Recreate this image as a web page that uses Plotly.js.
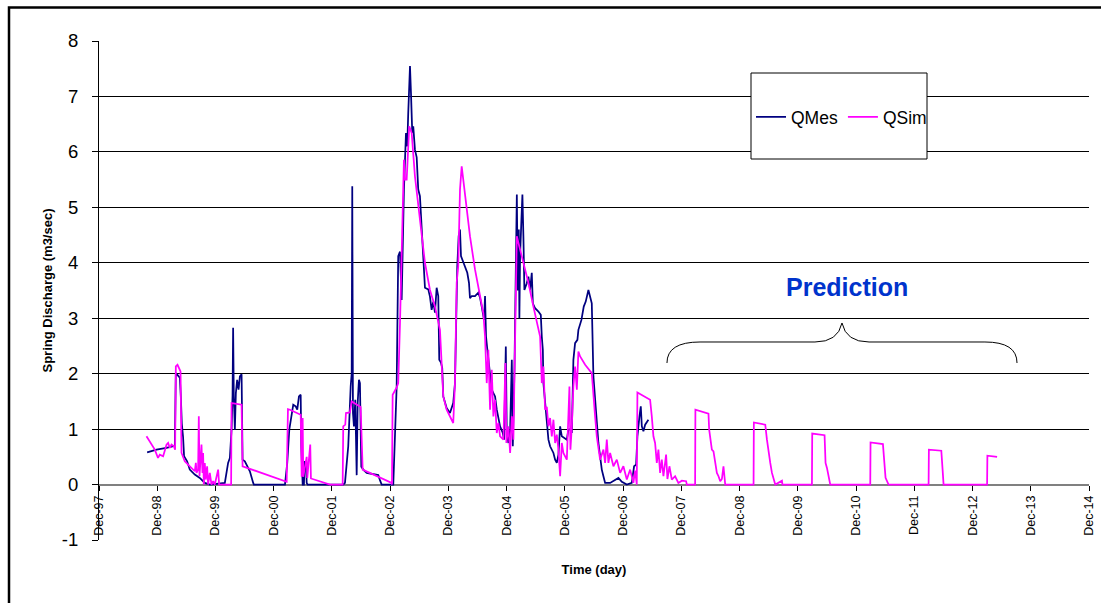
<!DOCTYPE html>
<html><head><meta charset="utf-8">
<script src="https://cdn.plot.ly/plotly-3.0.1.min.js"></script>
<style>html,body{margin:0;padding:0;background:#fff}#chart{width:1101px;height:603px}</style>
</head><body><div id="chart"></div>
<script>
// Time in decimal years, values in m3/sec
const qmesT = [1998.742,1998.903,1999.075,1999.161,1999.218,1999.235,1999.274,1999.304,1999.321,1999.338,1999.360,1999.377,1999.429,1999.475,1999.561,1999.647,1999.733,1999.819,
2000.077,2000.106,2000.133,2000.163,2000.192,2000.209,2000.219,2000.231,2000.249,2000.266,2000.288,2000.312,2000.335,2000.364,2000.381,2000.420,2000.450,2000.506,2000.563,2000.575,
2001.108,2001.125,2001.147,2001.182,2001.223,2001.250,2001.292,2001.319,2001.348,2001.378,2001.388,2001.400,2001.412,2001.434,2001.446,2001.469,2001.481,2001.495,
2002.109,2002.139,2002.195,2002.237,2002.254,2002.264,2002.276,2002.293,2002.316,2002.340,2002.357,2002.379,2002.396,2002.419,2002.453,2002.512,2002.625,2002.711,2002.740,2002.769,
2002.969,2003.027,2003.054,2003.084,2003.113,2003.130,2003.152,2003.187,2003.209,2003.226,2003.256,2003.273,2003.295,2003.312,2003.341,2003.371,2003.398,2003.427,2003.457,2003.484,2003.513,2003.570,2003.599,2003.628,2003.656,2003.685,2003.714,2003.742,2003.759,2003.788,2003.810,2003.828,2003.857,2003.886,2003.943,
2003.999,2004.029,2004.046,2004.068,2004.092,2004.115,2004.132,2004.171,2004.201,2004.240,2004.269,2004.286,2004.316,2004.372,2004.429,2004.458,2004.487,2004.527,2004.544,2004.561,2004.584,2004.618,2004.659,2004.687,2004.716,2004.745,2004.802,2004.848,2004.871,2004.900,2004.917,2004.944,2004.974,
2005.003,2005.020,2005.048,2005.072,2005.089,2005.106,2005.123,2005.133,2005.145,2005.168,2005.185,2005.202,2005.219,2005.260,2005.288,2005.317,2005.346,2005.364,2005.403,2005.460,2005.501,2005.518,2005.536,2005.546,2005.575,2005.604,2005.632,2005.661,2005.690,2005.718,2005.747,2005.776,2005.804,2005.833,2005.862,2005.919,2005.948,2005.975,
2006.005,2006.034,2006.061,2006.090,2006.130,2006.147,2006.199,2006.239,2006.273,2006.319,2006.348,2006.377,2006.405,2006.434,2006.463,2006.491,2006.520,2006.549,2006.577,2006.606,2006.692,2006.749,2006.835,2006.893,2006.979,
2007.065,2007.104,2007.139,2007.161,2007.196,2007.219,2007.237,2007.264,2007.294,2007.333,2007.350];
const qmesV = [0.58,0.63,0.66,0.68,0.70,2.01,1.96,1.93,1.59,1.10,0.85,0.51,0.42,0.27,0.18,0.12,0.03,0,
0.03,0.20,0.39,0.48,0.99,1.60,2.83,1.59,0.99,1.65,1.89,1.71,1.95,1.99,0.45,0.42,0.36,0.24,0.03,0,
0,0.15,0.39,0.99,1.32,1.44,1.41,1.35,1.59,1.62,0.69,0.21,0,0,0.42,0.39,0.03,0,
0,0.03,0.69,1.77,2.00,5.38,1.29,1.05,1.53,0.17,1.47,1.89,1.83,0.32,0.27,0.21,0.19,0.17,0.08,0,
0,1.77,4.12,4.20,3.33,4.48,5.32,6.34,6.10,6.70,7.55,7.06,6.34,6.46,6.04,5.90,5.32,5.20,4.60,4.12,3.55,3.52,3.39,3.15,3.30,3.10,3.55,3.40,2.25,2.20,2.10,1.59,1.47,1.38,1.29,
1.47,1.83,2.67,3.93,4.48,4.60,4.12,4.00,3.94,3.82,3.64,3.36,3.40,3.40,3.46,3.37,3.21,2.97,3.40,2.67,2.43,2.07,1.71,1.65,1.59,1.35,1.05,0.93,0.81,2.49,0.90,0.75,0.99,
2.25,0.69,2.07,3.88,5.23,3.50,4.60,3.00,4.12,4.78,5.23,4.48,3.51,3.63,3.75,3.51,3.82,3.27,3.18,3.12,3.06,2.67,2.43,1.83,1.47,1.05,0.81,0.69,0.63,0.57,0.45,0.39,0.54,1.05,0.87,0.84,0.81,0.99,
1.00,0.93,2.25,2.55,2.61,2.79,2.97,3.21,3.30,3.51,3.40,3.27,1.95,1.53,1.11,0.75,0.51,0.27,0.15,0.03,0.03,0.06,0.12,0.05,0,
0.03,0.33,0.36,0.87,1.23,1.41,1.05,0.96,1.08,1.14,1.17];

const qsimT = [1998.731,1998.788,1998.874,1998.929,1998.960,1999.017,1999.046,1999.075,1999.103,1999.132,1999.161,1999.201,1999.223,1999.235,1999.264,1999.316,1999.333,1999.389,1999.446,1999.505,1999.561,1999.579,1999.591,1999.618,1999.630,1999.642,1999.659,1999.676,1999.693,1999.704,1999.716,1999.733,1999.750,1999.773,1999.790,1999.819,1999.848,1999.876,1999.905,1999.962,1999.979,
2000.185,2000.192,2000.364,2000.381,2001.137,2001.159,2001.194,2001.378,2001.395,2001.412,2001.422,2001.481,2001.491,2001.542,2001.554,2001.881,
2002.099,2002.109,2002.144,2002.156,2002.224,2002.254,2002.408,2002.443,2002.941,2002.946,2002.958,
2003.027,2003.054,2003.084,2003.130,2003.152,2003.170,2003.199,2003.243,2003.285,2003.341,2003.398,2003.457,2003.513,2003.599,2003.685,2003.771,2003.800,2003.828,2003.886,2003.943,2003.999,
2004.029,2004.058,2004.085,2004.115,2004.144,2004.201,2004.286,2004.372,2004.458,2004.515,2004.544,2004.573,2004.601,2004.630,2004.659,2004.687,2004.716,2004.745,2004.773,2004.802,2004.859,2004.893,2004.910,2004.944,2004.974,
2005.003,2005.030,2005.060,2005.089,2005.116,2005.202,2005.288,2005.374,2005.489,2005.518,2005.546,2005.575,2005.604,2005.632,2005.661,2005.690,2005.718,2005.747,2005.776,2005.804,2005.833,2005.862,2005.889,2005.948,2005.993,
2006.010,2006.034,2006.061,2006.090,2006.120,2006.147,2006.177,2006.263,2006.377,2006.405,2006.434,2006.463,2006.491,2006.520,2006.577,2006.606,2006.635,2006.663,2006.692,2006.749,2006.807,2006.864,2006.920,2006.979,
2007.036,2007.092,2007.121,2007.150,2007.161,2007.379,2007.408,2007.436,2007.465,2007.494,2007.522,2007.551,2007.580,2007.608,2007.654,2007.677,2007.711,2007.752,2007.809,2007.865,2007.924,2007.998,
2008.010,2008.152,2008.157,2008.381,2008.393,2008.439,2008.467,2008.496,2008.525,2008.553,2008.582,2008.611,2008.638,2008.668,
2009.154,2009.159,2009.355,2009.384,2009.412,2009.441,2009.470,2009.498,2009.527,2009.642,2009.650,
2010.157,2010.162,2010.374,2010.391,2010.415,2010.443,2010.472,
2011.159,2011.164,2011.377,2011.400,2011.422,2011.474,
2012.161,2012.166,2012.379,2012.401,2012.418,
2013.164,2013.169,2013.336];
const qsimV = [0.87,0.78,0.63,0.48,0.54,0.51,0.60,0.72,0.75,0.66,0.72,0.69,0.63,2.13,2.16,2.04,0.57,0.42,0.36,0.30,0.24,0.39,0.21,0.27,1.23,0.15,0.51,0.72,0.21,0.57,0,0.39,0.09,0.33,0,0.21,0,0.06,0,0.27,0,
0,1.47,1.44,0.33,0.05,1.36,1.35,1.26,0.14,1.20,0.14,0.50,0.12,0.72,0.11,0,
0,1.05,1.08,1.29,1.30,1.50,1.40,0.27,0.03,0,1.62,
1.75,1.83,2.90,4.60,5.86,5.50,5.50,6.46,6.34,5.56,5.02,4.48,4.00,3.51,3.21,2.79,2.19,1.59,1.35,1.23,1.11,
1.83,3.64,3.94,5.32,5.74,5.20,4.48,3.88,3.39,3.09,2.67,1.83,2.43,1.35,2.07,1.23,1.53,0.93,1.11,0.87,0.81,2.19,0.75,1.05,0.57,
1.23,0.81,3.00,4.48,4.36,4.00,3.64,3.21,2.67,1.83,2.13,1.35,1.40,1.05,1.20,0.87,1.17,0.75,0.90,0.63,0.15,0.75,0.57,0.45,1.77,
0.63,1.05,1.77,2.13,1.71,2.40,2.31,2.16,2.01,1.53,1.23,0.87,0.63,0.45,0.63,0.39,0.81,0.39,0.57,0.33,0.45,0.21,0.33,0.09,
0.27,0.03,0.25,0,1.66,1.53,1.23,0.87,0.75,0.39,0.63,0.21,0.45,0.15,0.54,0.10,0.33,0.09,0.15,0.03,0.07,0.06,
0,0,1.35,1.28,0.99,0.63,0.60,0.39,0.21,0.15,0.06,0.10,0.33,0,
0,1.12,1.08,0.81,0.57,0.39,0.21,0.09,0,0.07,0,
0,0.92,0.89,0.39,0.30,0.15,0,
0,0.76,0.73,0.33,0.12,0,
0,0.63,0.61,0.27,0,
0,0.52,0.50];

const tickDates = ['1997-12-01','1998-12-01','1999-12-01','2000-12-01','2001-12-01','2002-12-01','2003-12-01','2004-12-01','2005-12-01','2006-12-01','2007-12-01','2008-12-01','2009-12-01','2010-12-01','2011-12-01','2012-12-01','2013-12-01','2014-12-01'];
const tickLabels = ['Dec-97','Dec-98','Dec-99','Dec-00','Dec-01','Dec-02','Dec-03','Dec-04','Dec-05','Dec-06','Dec-07','Dec-08','Dec-09','Dec-10','Dec-11','Dec-12','Dec-13','Dec-14'];
const yTickVals = [-1,0,1,2,3,4,5,6,7,8];
const yTickText = ['-1','0','1','2','3','4','5','6','7','8'];
const seriesNames = ['QMes','QSim'];

function decYear(y){
  const yr = Math.floor(y);
  const s = Date.UTC(yr,0,1), e = Date.UTC(yr+1,0,1);
  return new Date(s + (y-yr)*(e-s)).toISOString().slice(0,19).replace('T',' ');
}

// pixel -> paper helpers for decorations (plot area 99..1089 x 41..540)
const L=99, R=1089, T=41, B=540;
const px = x => (x-L)/(R-L);
const py = y => (B-y)/(B-T);
const P = (x,y) => px(x).toFixed(4)+','+py(y).toFixed(4);

const FONT = "Arial, 'Liberation Sans', sans-serif";

const traces = [
  {x: qmesT.map(decYear), y: qmesV, type:'scatter', mode:'lines', name: seriesNames[0],
   line:{color:'#000080', width:1.75}},
  {x: qsimT.map(decYear), y: qsimV, type:'scatter', mode:'lines', name: seriesNames[1],
   line:{color:'#FF00FF', width:1.75}}
];

const bracePath = 'M '+P(667,363)+' Q '+P(667,342)+' '+P(700,342)+' L '+P(815,342)+
  ' Q '+P(838,342)+' '+P(842,323)+' Q '+P(846,342)+' '+P(869,342)+' L '+P(985,342)+
  ' Q '+P(1017,342)+' '+P(1017,363);

const layout = {
  width:1101, height:603,
  margin:{l:99, r:12, t:41, b:63, pad:0},
  paper_bgcolor:'#fff', plot_bgcolor:'#fff',
  font:{family:FONT, color:'#000'},
  showlegend:true,
  xaxis:{
    type:'date', range:['1997-12-01','2014-12-01'],
    tickvals: tickDates, ticktext: tickLabels, tickangle:-90,
    tickfont:{family:FONT, size:12.5, color:'#000'},
    ticks:'outside', ticklen:5, tickcolor:'#000', tickwidth:1,
    showgrid:false, zeroline:false,
    showline:true, linecolor:'#808080', linewidth:2,
    anchor:'free', position:1/9, layer:'below traces',
    title:{text:'Time (day)', font:{family:FONT, size:13, weight:700, color:'#000'}, standoff:29}
  },
  yaxis:{
    range:[-1,8], tickmode:'array', tickvals:yTickVals, ticktext:yTickText,
    tickfont:{family:FONT, size:18.5, color:'#000'},
    ticks:'outside', ticklen:6, tickcolor:'#000', ticklabelstandoff:10,
    showgrid:true, gridcolor:'#000', gridwidth:1,
    zeroline:false, showline:true, linecolor:'#000', linewidth:1,
    title:{text:'Spring Discharge (m3/sec)', font:{family:FONT, size:13, weight:700, color:'#000'}, standoff:6}
  },
  legend:{
    orientation:'h', x:px(751), xanchor:'left', y:py(117), yanchor:'middle',
    font:{family:FONT, size:17.5, color:'#000'},
    bgcolor:'rgba(0,0,0,0)', borderwidth:0
  },
  shapes:[
    {type:'rect', xref:'paper', yref:'paper', x0:px(751), x1:px(927), y0:py(159), y1:py(73),
     line:{color:'#000', width:1}, fillcolor:'#fff', layer:'above'},
    {type:'path', xref:'paper', yref:'paper', path:bracePath, line:{color:'#000', width:1}, layer:'above'},
    {type:'rect', xref:'paper', yref:'paper', x0:px(9), x1:px(1140), y0:py(640), y1:py(7.5),
     line:{color:'#000', width:2.5}, fillcolor:'rgba(0,0,0,0)', layer:'above'}
  ],
  annotations:[
    {text:'Prediction', xref:'paper', yref:'paper', x:px(847), y:py(287), showarrow:false,
     xanchor:'center', yanchor:'middle', font:{family:FONT, size:25, weight:700, color:'#0033CC'}}
  ]
};

Plotly.newPlot('chart', traces, layout, {displayModeBar:false, staticPlot:true});
</script></body></html>
